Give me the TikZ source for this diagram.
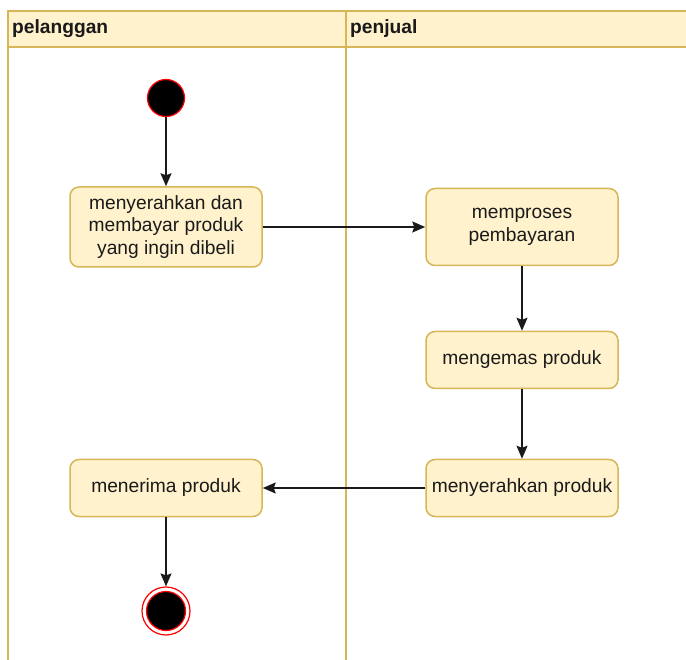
\documentclass[tikz,border=0pt]{standalone}
\usepackage{fontspec}
\setmainfont{Liberation Sans}
\usetikzlibrary{arrows.meta}
\definecolor{lanefill}{HTML}{FFF2CC}
\definecolor{lanedraw}{HTML}{D6B656}
\definecolor{ink}{HTML}{1A1A1A}
\begin{document}
\begin{tikzpicture}[x=1pt,y=-1pt,
  act/.style={draw=lanedraw, fill=lanefill, line width=1.5pt, rounded corners=9pt,
    minimum width=192pt, minimum height=57pt, align=center, inner sep=0pt, text=ink,
    font=\fontsize{19.2}{22.5}\selectfont},
  lane/.style={draw=lanedraw, line width=1.5pt},
  hdr/.style={anchor=west, inner sep=0pt, text=ink, font=\fontsize{19.2}{22}\selectfont\bfseries},
  flow/.style={-{Stealth[length=13pt,width=11pt,inset=2pt]}, line width=1.5pt, draw=ink}]
\useasboundingbox (0,0) rectangle (686,660);
% swimlanes
\fill[lanefill] (8,11) rectangle (686,47);
\draw[lane] (8,660) -- (8,11) -- (686,11);
\draw[lane] (8,47) -- (686,47);
\draw[lane] (346,11) -- (346,660);
\node[hdr] (h1) at (12,29) {pelanggan};
\node[hdr] (h2) at (350,29) {penjual};
% start
\node[circle, fill=black, draw=red, line width=1.2pt, minimum size=37pt, inner sep=0pt] (start) at (166,98) {};
% activities
\node[act, minimum height=80pt] (a1) at (166,227) {menyerahkan dan\\membayar produk\\yang ingin dibeli};
\node[act, minimum height=77pt] (a2) at (522,227) {memproses\\pembayaran};
\node[act] (a3) at (522,360) {mengemas produk};
\node[act] (a4) at (522,488) {menyerahkan produk};
\node[act] (a5) at (166,488) {menerima produk};
% end
\node[circle, draw=red, line width=1.2pt, minimum size=48pt, inner sep=0pt] (end) at (166,611) {};
\node[circle, fill=black, draw=red, line width=1.2pt, minimum size=39pt, inner sep=0pt] (endin) at (166,611) {};
% flows
\draw[flow] (start) -- (a1);
\draw[flow] (a1) -- (a2);
\draw[flow] (a2) -- (a3);
\draw[flow] (a3) -- (a4);
\draw[flow] (a4) -- (a5);
\draw[flow] (a5) -- (end);
\end{tikzpicture}
\end{document}
